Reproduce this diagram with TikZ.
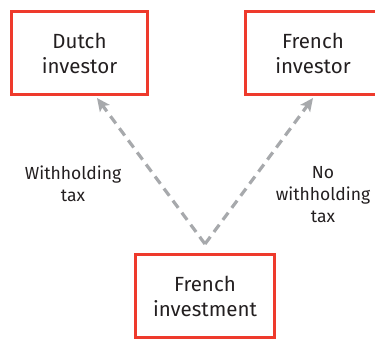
\documentclass[tikz,border=0pt]{standalone}
\usepackage{fontspec}
\setmainfont{Fira Sans}
\usetikzlibrary{arrows.meta}

\definecolor{boxred}{HTML}{EE3A2C}
\definecolor{arrowgrey}{HTML}{A7A9AC}
\definecolor{inkgrey}{HTML}{231F20}

\tikzset{
    party/.style={draw=boxred, line width=3pt, minimum width=136pt, minimum height=83pt,
        align=center, text=inkgrey, font=\fontsize{20.5}{25}\selectfont},
    flow/.style={draw=arrowgrey, line width=3.2pt, dash pattern=on 9pt off 6pt,
        -{Stealth[length=13pt, width=12pt, inset=3pt]}},
    taxnote/.style={align=center, text=inkgrey, font=\fontsize{17.5}{22}\selectfont}
}

\begin{document}
\begin{tikzpicture}[x=1pt, y=-1pt]
    \useasboundingbox (0,0) rectangle (375,338);
    \clip (0,0) rectangle (375,338);

    % investors on top, investment below
    \node[party] (dutch) at (79.5,53) {Dutch\\investor};
    \node[party] (french) at (313,53) {French\\investor};
    \node[party, minimum width=139pt] (invest) at (205,296) {French\\investment};

    \coordinate (src) at ([yshift=9pt]invest.north);

    \draw[flow] (src) -- ([xshift=17.5pt, yshift=-2pt]dutch.south);
    \draw[flow] (src) -- ([yshift=-2pt]french.south);

    \node[taxnote] (wht) at (73,184) {Withholding\\tax};
    \node[taxnote] (nowht) at (323,195) {No\\withholding\\tax};
\end{tikzpicture}
\end{document}
